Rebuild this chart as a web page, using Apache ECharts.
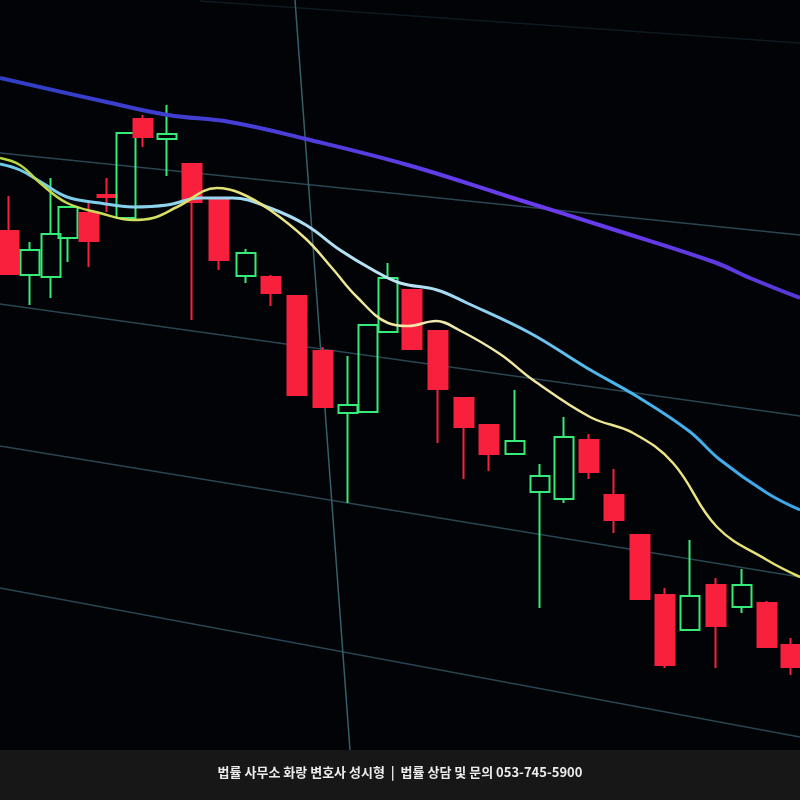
<!DOCTYPE html>
<html>
<head>
<meta charset="utf-8">
<script src="https://cdn.jsdelivr.net/npm/echarts@6/dist/echarts.min.js"></script>
<style>
html,body{margin:0;padding:0;background:#000;}
#chart{width:800px;height:800px;}
</style>
</head>
<body>
<div id="chart"></div>
<script>
// ---- data (x = session position, prices on an arbitrary scale) ----
var candleX     = [9, 30, 51, 68, 89, 107, 126, 143, 167, 192, 219, 246, 271, 297, 323, 348, 368, 388, 412, 438, 464, 489, 515, 540, 564, 589, 614, 640, 665, 690, 716, 742, 767, 791];
var candleOpen  = [519, 475, 473, 512, 537, 555, 532, 631, 611, 586, 552, 474, 473, 454, 399, 337, 338, 418, 460, 419, 352, 325, 296, 258, 251, 310, 255, 215, 155, 120, 165, 143, 147, 105];
var candleClose = [476, 500, 516, 543, 509, 553, 617, 613, 616, 548, 490, 497, 457, 355, 343, 345, 425, 472, 401, 361, 323, 296, 309, 274, 313, 278, 230, 151,  85, 154, 124, 165, 103,  83];
var candleLow   = [476, 445, 452, 488, 483, 538, 532, 603, 574, 430, 480, 467, 444, 355, 343, 247, 338, 418, 401, 307, 271, 279, 296, 142, 247, 271, 217, 151,  82, 120,  82, 137, 103,  75];
var candleHigh  = [554, 508, 572, 543, 548, 572, 617, 635, 645, 586, 552, 501, 475, 454, 403, 394, 425, 487, 460, 419, 352, 325, 360, 286, 333, 316, 281, 215, 162, 210, 172, 181, 149, 112];

// moving averages: [position, value]
var maLongX   = [0, 102, 168, 230, 306, 408, 510, 612, 714, 750, 800];
var maLongY   = [672, 649, 635, 628, 611, 585, 553, 521, 488, 472, 452];
var maMidX    = [0, 20, 41, 67, 100, 133, 167, 200, 233, 270, 306, 340, 373, 400, 437, 467, 530, 587, 638, 689, 719, 767, 800];
var maMidY    = [586, 580, 568, 553, 547, 543, 545, 552, 552, 542, 525, 500, 480, 467, 460, 447, 417, 382, 353, 319, 291, 257, 240];
var maShortX  = [0, 20, 40, 67, 100, 133, 153, 177, 217, 240, 270, 306, 332, 357, 388, 408, 436, 459, 500, 533, 590, 633, 673, 717, 767, 800];
var maShortY  = [592, 585, 567, 547, 537, 530, 532, 543, 562, 557, 540, 511, 482, 453, 427, 424, 429, 420, 396, 370, 333, 317, 287, 223, 190, 173];

// chart screen grid lines (tilted in the photo): [x0, v0, x1, v1]
var gridRows = [
  [200, 749, 800, 707],
  [0, 597, 800, 515],
  [0, 446, 800, 334],
  [0, 304, 800, 173],
  [0, 162, 800, 13]
];
var gridCol = [295, 750, 350, 0];

var footerText = '법률 사무소 화랑 변호사 성시형  |  법률 상담 및 문의 053-745-5900';

// ---- build options ----
var candles = candleX.map(function (x, i) {
  return [x, candleOpen[i], candleClose[i], candleLow[i], candleHigh[i]];
});
function pairs(xs, ys) { return xs.map(function (x, i) { return [x, ys[i]]; }); }

var series = [];
gridRows.forEach(function (g, i) {
  series.push({
    type: 'line', data: [[g[0], g[1]], [g[2], g[3]]], showSymbol: false, silent: true, z: 1,
    lineStyle: { color: i === 0 ? '#0e1a20' : '#2a4653', width: 1.5 }
  });
});
series.push({
  type: 'line', data: [[gridCol[0], gridCol[1]], [gridCol[2], gridCol[3]]], showSymbol: false, silent: true, z: 1,
  lineStyle: { color: '#35606a', width: 1.5 }
});
series.push({
  type: 'candlestick', data: candles, encode: { x: 0, y: [1, 2, 3, 4] }, barWidth: 20, z: 2,
  itemStyle: {
    color: 'rgba(0,0,0,0)', borderColor: '#36ec78',
    color0: '#f8203d', borderColor0: '#f8203d', borderWidth: 2
  }
});
series.push({
  type: 'line', data: pairs(maLongX, maLongY), smooth: 0.4, showSymbol: false, z: 3,
  lineStyle: {
    width: 4,
    color: new echarts.graphic.LinearGradient(0, 0, 1, 0, [
      { offset: 0, color: '#2f3fc4' }, { offset: 0.35, color: '#4a3ed8' },
      { offset: 0.65, color: '#6c3cf0' }, { offset: 1, color: '#5838da' }
    ])
  }
});
series.push({
  type: 'line', data: pairs(maMidX, maMidY), smooth: 0.4, showSymbol: false, z: 3,
  lineStyle: {
    width: 3,
    color: new echarts.graphic.LinearGradient(0, 0, 1, 0, [
      { offset: 0, color: '#6cc8e8' }, { offset: 0.5, color: '#bfe6f6' },
      { offset: 0.75, color: '#4cb6ee' }, { offset: 1, color: '#3aa6ea' }
    ])
  }
});
series.push({
  type: 'line', data: pairs(maShortX, maShortY), smooth: 0.4, showSymbol: false, z: 3,
  lineStyle: {
    width: 2.5,
    color: new echarts.graphic.LinearGradient(0, 0, 1, 0, [
      { offset: 0, color: '#b6d83c' }, { offset: 0.3, color: '#e8e27a' },
      { offset: 0.55, color: '#f3eab0' }, { offset: 1, color: '#e6e06a' }
    ])
  }
});

var chart = echarts.init(document.getElementById('chart'), null, { renderer: 'canvas' });
chart.setOption({
  backgroundColor: '#010306',
  animation: false,
  grid: { left: 0, right: 0, top: 0, bottom: 50 },
  xAxis: { type: 'value', min: 0, max: 800, show: false },
  yAxis: { type: 'value', min: 0, max: 750, show: false, splitLine: { show: false } },
  series: series,
  graphic: [
    { type: 'rect', left: 0, top: 750, shape: { width: 800, height: 50 }, style: { fill: '#171717' }, z: 10 },
    { type: 'text', left: 'center', top: 766, z: 11,
      style: { text: footerText, fill: '#ececec', font: 'bold 13px "Noto Sans CJK KR", sans-serif' } }
  ]
});
</script>
</body>
</html>
